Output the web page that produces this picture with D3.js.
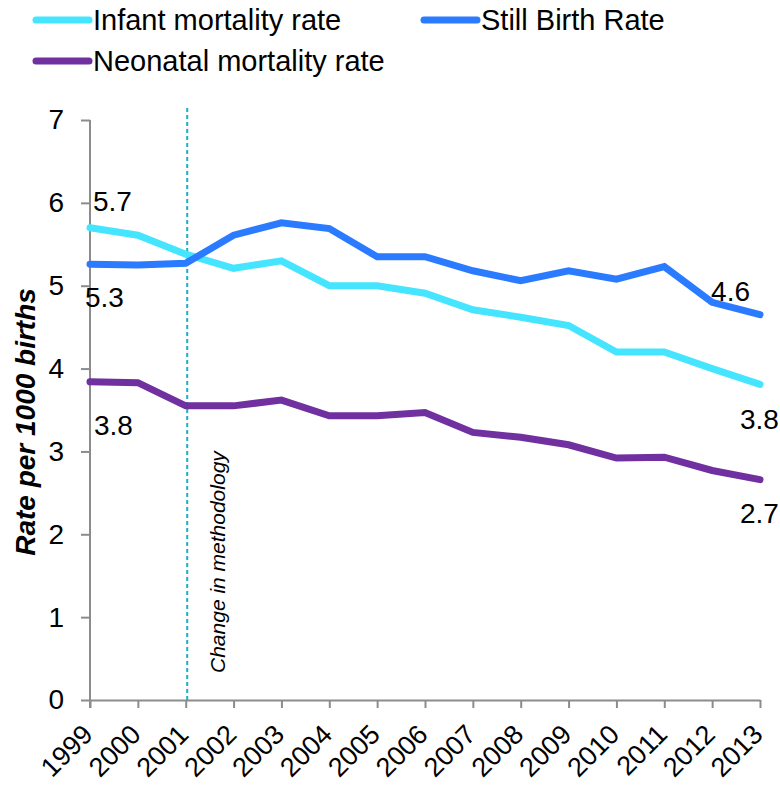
<!DOCTYPE html>
<html>
<head>
<meta charset="utf-8">
<script src="https://cdn.jsdelivr.net/npm/d3@7"></script>
<style>
  body { margin: 0; background: #fff; }
  svg { font-family: Arial, "Liberation Sans", sans-serif; }
</style>
</head>
<body>
<div id="chart"></div>
<script>
// Data
const years = [1999, 2000, 2001, 2002, 2003, 2004, 2005, 2006, 2007, 2008, 2009, 2010, 2011, 2012, 2013];
const infantRate = [5.7, 5.61, 5.38, 5.21, 5.3, 5.0, 5.0, 4.91, 4.71, 4.62, 4.52, 4.2, 4.2, 4.0, 3.81];
const stillBirthRate = [5.26, 5.25, 5.27, 5.61, 5.76, 5.69, 5.35, 5.35, 5.18, 5.06, 5.18, 5.08, 5.23, 4.8, 4.65];
const neonatalRate = [3.84, 3.83, 3.55, 3.55, 3.62, 3.43, 3.43, 3.47, 3.23, 3.17, 3.08, 2.92, 2.93, 2.77, 2.66];
const yTicks = [0, 1, 2, 3, 4, 5, 6, 7];

const series = [
    { name: "Infant mortality rate", values: infantRate, color: "#45E5FF" },
    { name: "Still Birth Rate", values: stillBirthRate, color: "#2A7BFF" },
    { name: "Neonatal mortality rate", values: neonatalRate, color: "#7030A0" }
];

const width = 780;
const height = 789;
const margin = { top: 120, right: 20, bottom: 89, left: 90 };

const svg = d3.select('#chart')
    .append('svg')
    .attr('width', width)
    .attr('height', height);

const x = d3.scalePoint()
    .domain(years)
    .range([margin.left, width - margin.right]);

const y = d3.scaleLinear()
    .domain([0, 7])
    .range([height - margin.bottom, margin.top]);

// y axis
const yAxis = svg.append('g')
    .attr('transform', `translate(${margin.left},0)`)
    .call(d3.axisLeft(y).tickValues(yTicks).tickFormat(d3.format('d'))
        .tickSize(9).tickPadding(17).tickSizeOuter(0));
yAxis.select('.domain').attr('stroke', '#8c8c8c').attr('stroke-width', 2)
    .attr('d', `M0,${y(7)}V${y(0) + 8}`);
yAxis.selectAll('.tick line').attr('stroke', '#8c8c8c').attr('stroke-width', 2);
yAxis.selectAll('.tick text')
    .style('font-size', '28px')
    .attr('fill', '#000');

// x axis
const xAxis = svg.append('g')
    .attr('transform', `translate(0,${height - margin.bottom})`)
    .call(d3.axisBottom(x).tickSize(8).tickSizeOuter(0));
xAxis.select('.domain').attr('stroke', '#8c8c8c').attr('stroke-width', 2);
xAxis.selectAll('.tick line').attr('stroke', '#8c8c8c').attr('stroke-width', 2);
xAxis.selectAll('.tick text')
    .style('font-size', '27px')
    .attr('fill', '#000')
    .attr('text-anchor', 'end')
    .attr('dy', null)
    .attr('y', 0)
    .attr('transform', 'translate(4,36) rotate(-45)');

// y axis title
svg.append('text')
    .attr('transform', `translate(35,${(margin.top + height - margin.bottom) / 2 + 12}) rotate(-90)`)
    .attr('text-anchor', 'middle')
    .style('font-size', '28px')
    .style('font-weight', 'bold')
    .style('font-style', 'italic')
    .text('Rate per 1000 births');

// methodology change line
const xChange = x(2001) + 1.5;
svg.append('line')
    .attr('x1', xChange).attr('x2', xChange)
    .attr('y1', y(7) - 12).attr('y2', y(0))
    .attr('stroke', '#1AAFC8')
    .attr('stroke-width', 2)
    .attr('stroke-dasharray', '4,3');

svg.append('text')
    .attr('transform', `translate(${xChange + 38},${y(0) - 27}) rotate(-90)`)
    .attr('text-anchor', 'start')
    .style('font-size', '21px')
    .style('font-style', 'italic')
    .text('Change in methodology');

// lines
const line = d3.line()
    .x((d, i) => x(years[i]))
    .y(d => y(d));

series.forEach(s => {
    svg.append('path')
        .datum(s.values)
        .attr('d', line)
        .attr('fill', 'none')
        .attr('stroke', s.color)
        .attr('stroke-width', 7)
        .attr('stroke-linejoin', 'miter')
        .attr('stroke-linecap', 'round');
});

// data labels
const labels = [
    { series: 0, idx: 0, dx: 3, dy: -17, anchor: 'start', text: '5.7' },
    { series: 1, idx: 0, dx: -5, dy: 43, anchor: 'start', text: '5.3' },
    { series: 2, idx: 0, dx: 4, dy: 53, anchor: 'start', text: '3.8' },
    { series: 1, idx: 14, dx: -10, dy: -14, anchor: 'end', text: '4.6' },
    { series: 0, idx: 14, dx: -20, dy: 45, anchor: 'start', text: '3.8' },
    { series: 2, idx: 14, dx: -20, dy: 43, anchor: 'start', text: '2.7' }
];
labels.forEach(l => {
    const v = series[l.series].values[l.idx];
    svg.append('text')
        .attr('x', x(years[l.idx]) + l.dx)
        .attr('y', y(v) + l.dy)
        .attr('text-anchor', l.anchor)
        .style('font-size', '28px')
        .text(l.text);
});

// legend
const legendItems = [
    { s: series[0], x: 36, y: 20 },
    { s: series[1], x: 424, y: 20 },
    { s: series[2], x: 36, y: 61 }
];
legendItems.forEach(it => {
    svg.append('line')
        .attr('x1', it.x).attr('x2', it.x + 53)
        .attr('y1', it.y).attr('y2', it.y)
        .attr('stroke', it.s.color)
        .attr('stroke-width', 7)
        .attr('stroke-linecap', 'round');
    svg.append('text')
        .attr('x', it.x + 57)
        .attr('y', it.y + 10)
        .style('font-size', '29px')
        .text(it.s.name);
});
</script>
</body>
</html>
